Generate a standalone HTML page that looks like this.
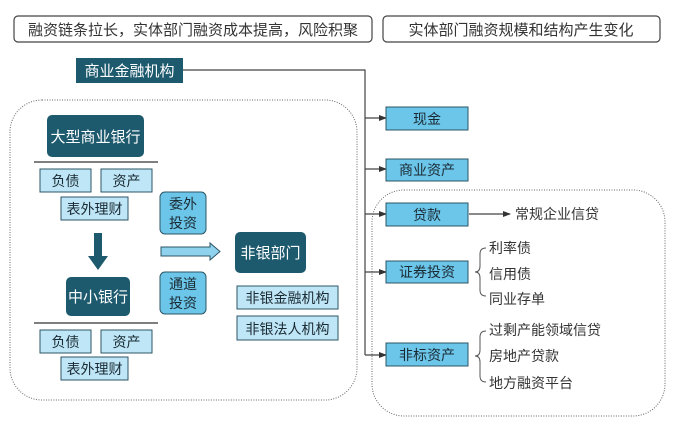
<!DOCTYPE html>
<html><head><meta charset="utf-8"><style>
body{margin:0;background:#fff;}
svg text{font-family:"Liberation Sans","Noto Sans CJK SC",sans-serif;}
</style></head><body>
<svg width="676" height="426" viewBox="0 0 676 426" xmlns="http://www.w3.org/2000/svg">
<defs>
<marker id="a" markerWidth="8" markerHeight="8" refX="7" refY="4" orient="auto" markerUnits="userSpaceOnUse"><path d="M0,1 L8,4 L0,7 z" fill="#333"/></marker>
</defs>
<rect width="676" height="426" fill="#fff"/>
<rect x="14" y="16" width="358" height="26" rx="4" fill="#fff" stroke="#444" stroke-width="1.2"/>
<text x="193" y="35" font-size="15" text-anchor="middle" fill="#333">融资链条拉长，实体部门融资成本提高，风险积聚</text>
<rect x="383" y="16" width="277" height="26" rx="4" fill="#fff" stroke="#444" stroke-width="1.2"/>
<text x="521" y="35" font-size="15" text-anchor="middle" fill="#333">实体部门融资规模和结构产生变化</text>
<rect x="10" y="100" width="347" height="300" rx="32" fill="none" stroke="#666" stroke-width="1" stroke-dasharray="1,1.5"/>
<rect x="372" y="190" width="293" height="226" rx="32" fill="none" stroke="#666" stroke-width="1" stroke-dasharray="1,1.5"/>
<rect x="76" y="58" width="107" height="25" fill="#1d5a6e"/>
<text x="129.5" y="76" font-size="15" text-anchor="middle" fill="#fff">商业金融机构</text>
<path d="M183,70 H365 V355" fill="none" stroke="#444" stroke-width="1.2"/>
<g stroke="#444" stroke-width="1.2" marker-end="url(#a)">
<line x1="365" y1="118" x2="386" y2="118"/>
<line x1="365" y1="169" x2="386" y2="169"/>
<line x1="365" y1="214" x2="386" y2="214"/>
<line x1="365" y1="272" x2="386" y2="272"/>
<line x1="365" y1="355" x2="386" y2="355"/>
<line x1="469" y1="214" x2="510" y2="214"/>
</g>
<g fill="#6cc6ea" stroke="#2d5566" stroke-width="1">
<rect x="386" y="107" width="82" height="23"/>
<rect x="386" y="159" width="82" height="22"/>
<rect x="386" y="203" width="82" height="23"/>
<rect x="386" y="261" width="82" height="22"/>
<rect x="386" y="343" width="82" height="23"/>
</g>
<g font-size="14" text-anchor="middle" fill="#1a2a33">
<text x="427" y="124">现金</text>
<text x="427" y="175">商业资产</text>
<text x="427" y="220">贷款</text>
<text x="427" y="277">证券投资</text>
<text x="427" y="360">非标资产</text>
</g>
<g font-size="14" fill="#333">
<text x="515" y="219">常规企业信贷</text>
<text x="489" y="253">利率债</text>
<text x="489" y="279">信用债</text>
<text x="489" y="304">同业存单</text>
<text x="489" y="335">过剩产能领域信贷</text>
<text x="489" y="361">房地产贷款</text>
<text x="489" y="388">地方融资平台</text>
</g>
<g fill="none" stroke="#555" stroke-width="1">
<path d="M486,248 Q480,248 480,254 V266 Q480,272 475,272 Q480,272 480,278 V290 Q480,296 486,296"/>
<path d="M486,331 Q480,331 480,337 V350 Q480,356 475,356 Q480,356 480,362 V376 Q480,382 486,382"/>
</g>
<rect x="47" y="115" width="97" height="42" rx="5" fill="#1d5a6e"/>
<text x="95.5" y="142" font-size="15" text-anchor="middle" fill="#fff">大型商业银行</text>
<line x1="34" y1="162" x2="158" y2="162" stroke="#333" stroke-width="1.2"/>
<g fill="#bfe6f6" stroke="#2d5566" stroke-width="1">
<rect x="40" y="169" width="51" height="23"/>
<rect x="101" y="169" width="51" height="23"/>
<rect x="61" y="197" width="67" height="23"/>
<rect x="40" y="330" width="51" height="23"/>
<rect x="101" y="330" width="51" height="23"/>
<rect x="61" y="357" width="67" height="23"/>
<rect x="237" y="286" width="101" height="23"/>
<rect x="237" y="316" width="101" height="24"/>
</g>
<g font-size="14" text-anchor="middle" fill="#1a2a33">
<text x="65.5" y="186">负债</text>
<text x="126.5" y="186">资产</text>
<text x="94.5" y="214">表外理财</text>
<text x="65.5" y="347">负债</text>
<text x="126.5" y="347">资产</text>
<text x="94.5" y="374">表外理财</text>
<text x="287.5" y="303">非银金融机构</text>
<text x="287.5" y="334">非银法人机构</text>
</g>
<path d="M94,233 H102 V256 H108 L98,270 L88,256 H94 Z" fill="#1d5a6e"/>
<rect x="66" y="277" width="64" height="39" rx="5" fill="#1d5a6e"/>
<text x="98" y="302" font-size="15" text-anchor="middle" fill="#fff">中小银行</text>
<line x1="34" y1="323" x2="158" y2="323" stroke="#333" stroke-width="1.2"/>
<g fill="#6cc6ea" stroke="#2d5566" stroke-width="1">
<rect x="160" y="192" width="46" height="42" rx="5"/>
<rect x="160" y="272" width="46" height="42" rx="5"/>
<path d="M161,247 H210 V243 L220,251.5 L210,260 V256 H161 Z" fill="#8fd2ee"/>
</g>
<g font-size="14" text-anchor="middle" fill="#1a2a33">
<text x="183" y="209">委外</text>
<text x="183" y="228">投资</text>
<text x="183" y="289">通道</text>
<text x="183" y="308">投资</text>
</g>
<rect x="235" y="232" width="71" height="41" rx="5" fill="#1d5a6e"/>
<text x="270.5" y="258" font-size="15" text-anchor="middle" fill="#fff">非银部门</text>
</svg>
</body></html>
